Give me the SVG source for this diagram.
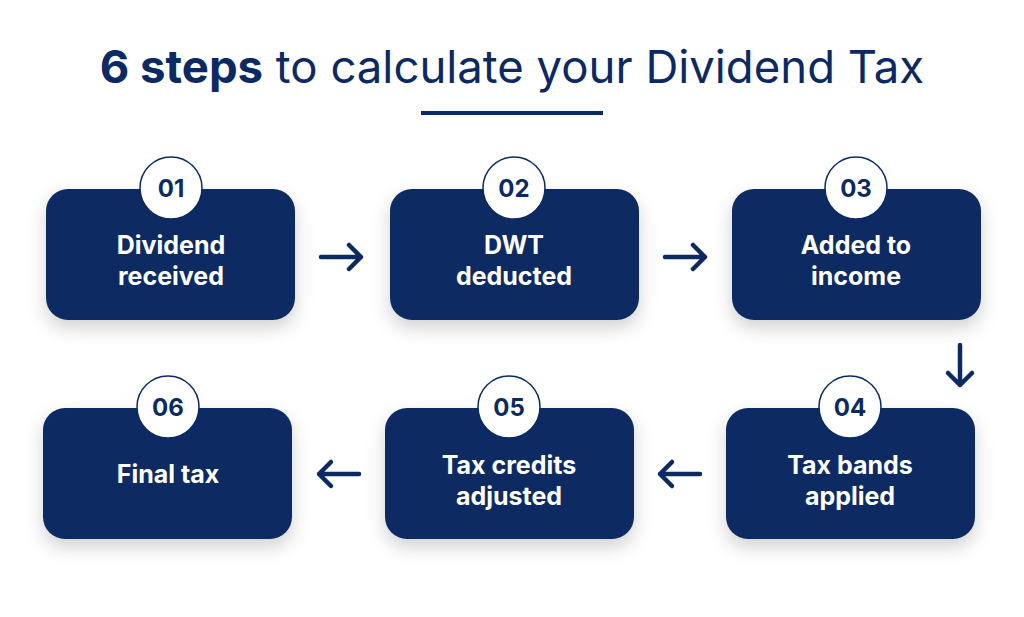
<svg xmlns="http://www.w3.org/2000/svg" width="1024" height="617" viewBox="0 0 1024 617">
<defs>
<style>
.box{fill:#0b2a63}
.num{fill:#fff;stroke:#0b2a63;stroke-width:1.5}
.nt{font-family:Inter,"Liberation Sans",sans-serif;font-weight:700;font-size:24px;fill:#0b2a63;text-anchor:middle}
.lt{font-family:Inter,"Liberation Sans",sans-serif;font-weight:700;font-size:25px;fill:#fff;text-anchor:middle}
.ar{fill:none;stroke:#0b2a63;stroke-width:4.5;stroke-linecap:round;stroke-linejoin:round}
</style>
<filter id="sh" x="-20%" y="-20%" width="140%" height="150%"><feDropShadow dx="0" dy="8" stdDeviation="9" flood-color="#000" flood-opacity="0.18"/></filter>
</defs>
<rect width="1024" height="617" fill="#fff"/>
<text x="512" y="83" text-anchor="middle" font-family="Inter,'Liberation Sans',sans-serif" font-size="45.5" fill="#0b2a63"><tspan font-weight="700">6 steps</tspan> to calculate your Dividend Tax</text>
<rect x="421" y="111" width="182" height="4" fill="#0b2a63"/>
<g id="n1"><rect class="box" x="46" y="189" width="249" height="131" rx="22" filter="url(#sh)"/><circle class="num" cx="171" cy="188" r="31"/><text class="nt" x="171" y="197">01</text><text class="lt" x="171" y="254">Dividend</text><text class="lt" x="171" y="285">received</text></g>
<g id="n2"><rect class="box" x="390" y="189" width="249" height="131" rx="22" filter="url(#sh)"/><circle class="num" cx="514" cy="188" r="31"/><text class="nt" x="514" y="197">02</text><text class="lt" x="514" y="254">DWT</text><text class="lt" x="514" y="285">deducted</text></g>
<g id="n3"><rect class="box" x="732" y="189" width="249" height="131" rx="22" filter="url(#sh)"/><circle class="num" cx="856" cy="188" r="31"/><text class="nt" x="856" y="197">03</text><text class="lt" x="856" y="254">Added to</text><text class="lt" x="856" y="285">income</text></g>
<g id="n4"><rect class="box" x="726" y="408" width="249" height="131" rx="22" filter="url(#sh)"/><circle class="num" cx="850" cy="407" r="31"/><text class="nt" x="850" y="416">04</text><text class="lt" x="850" y="474">Tax bands</text><text class="lt" x="850" y="505">applied</text></g>
<g id="n5"><rect class="box" x="385" y="408" width="249" height="131" rx="22" filter="url(#sh)"/><circle class="num" cx="509" cy="407" r="31"/><text class="nt" x="509" y="416">05</text><text class="lt" x="509" y="474">Tax credits</text><text class="lt" x="509" y="505">adjusted</text></g>
<g id="n6"><rect class="box" x="43" y="408" width="249" height="131" rx="22" filter="url(#sh)"/><circle class="num" cx="168" cy="407" r="31"/><text class="nt" x="168" y="416">06</text><text class="lt" x="168" y="483">Final tax</text></g>
<g id="connectors">
<path class="ar" d="M321 257H361M349 245L361 257L349 269"/>
<path class="ar" d="M665 257H705M693 245L705 257L693 269"/>
<path class="ar" d="M960 345V385M948 373L960 385L972 373"/>
<path class="ar" d="M700 474H660M672 462L660 474L672 486"/>
<path class="ar" d="M359 474H319M331 462L319 474L331 486"/>
</g>
</svg>
